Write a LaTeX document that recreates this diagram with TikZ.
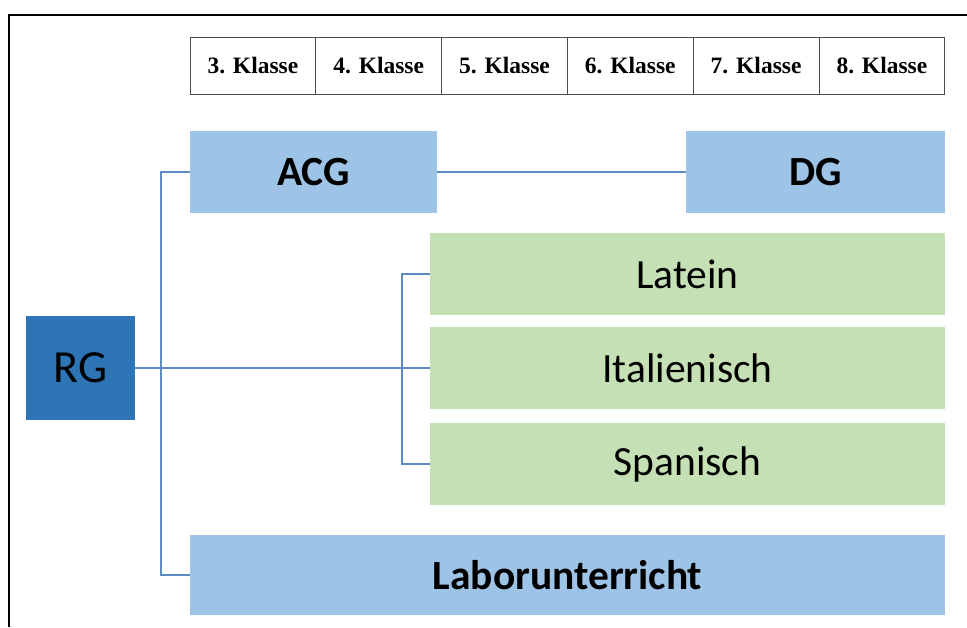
\documentclass[tikz,border=0pt]{standalone}
\usepackage{fontspec}
\setmainfont{Carlito}
\newfontfamily\klassefont{Liberation Serif}
\definecolor{lblue}{HTML}{9DC3E6}
\definecolor{dblue}{HTML}{2E75B6}
\definecolor{lgreen}{HTML}{C5E0B4}
\definecolor{conn}{HTML}{5B8BC0}
\begin{document}
\begin{tikzpicture}[x=1pt,y=-1pt,
  box/.style={inner sep=0pt, outer sep=0pt, anchor=center},
  bluebox/.style={box, fill=lblue, font=\fontsize{41.5}{41.5}\selectfont\bfseries},
  greenbox/.style={box, fill=lgreen, font=\fontsize{41.5}{41.5}\selectfont},
  klassecell/.style={box, draw=black!70, line width=0.8pt, minimum width=125.8pt, minimum height=57pt, font=\klassefont\fontsize{23.5}{23.5}\selectfont\bfseries},
  connector/.style={draw=conn, line width=1.5pt}
]
\useasboundingbox (0,0) rectangle (967,627);
% frame
\draw[line width=1.6pt] (9,627) -- (9,15) -- (967,15);
% Klasse row
\node[klassecell] (k3) at (252.9,65.5) {3. Klasse};
\node[klassecell] (k4) at (378.7,65.5) {4. Klasse};
\node[klassecell] (k5) at (504.5,65.5) {5. Klasse};
\node[klassecell] (k6) at (630.3,65.5) {6. Klasse};
\node[klassecell] (k7) at (756.1,65.5) {7. Klasse};
\node[klassecell] (k8) at (881.9,65.5) {8. Klasse};
% boxes
\node[bluebox, minimum width=247pt, minimum height=82pt] (acg) at (313.5,172) {ACG};
\node[bluebox, minimum width=259pt, minimum height=82pt] (dg) at (815.5,172) {DG};
\node[greenbox, minimum width=515pt, minimum height=82pt] (lat) at (687.5,274) {Latein};
\node[greenbox, minimum width=515pt, minimum height=82pt] (ita) at (687.5,368) {Italienisch};
\node[greenbox, minimum width=515pt, minimum height=82pt] (spa) at (687.5,464) {Spanisch};
\node[box, fill=dblue, minimum width=109pt, minimum height=104pt, font=\fontsize{46}{46}\selectfont] (rg) at (80.5,368) {RG};
\node[bluebox, minimum width=755pt, minimum height=80pt] (lab) at (567.5,575) {Laborunterricht};
% connector junctions
\coordinate (j1) at (161,368);
\coordinate (j2) at (402,368);
% connectors
\draw[connector] (rg.east) -- (ita.west);
\draw[connector] (acg.west) -| (j1) |- (lab.west);
\draw[connector] (lat.west) -| (j2) |- (spa.west);
\draw[connector] (acg.east) -- (dg.west);
\end{tikzpicture}
\end{document}
